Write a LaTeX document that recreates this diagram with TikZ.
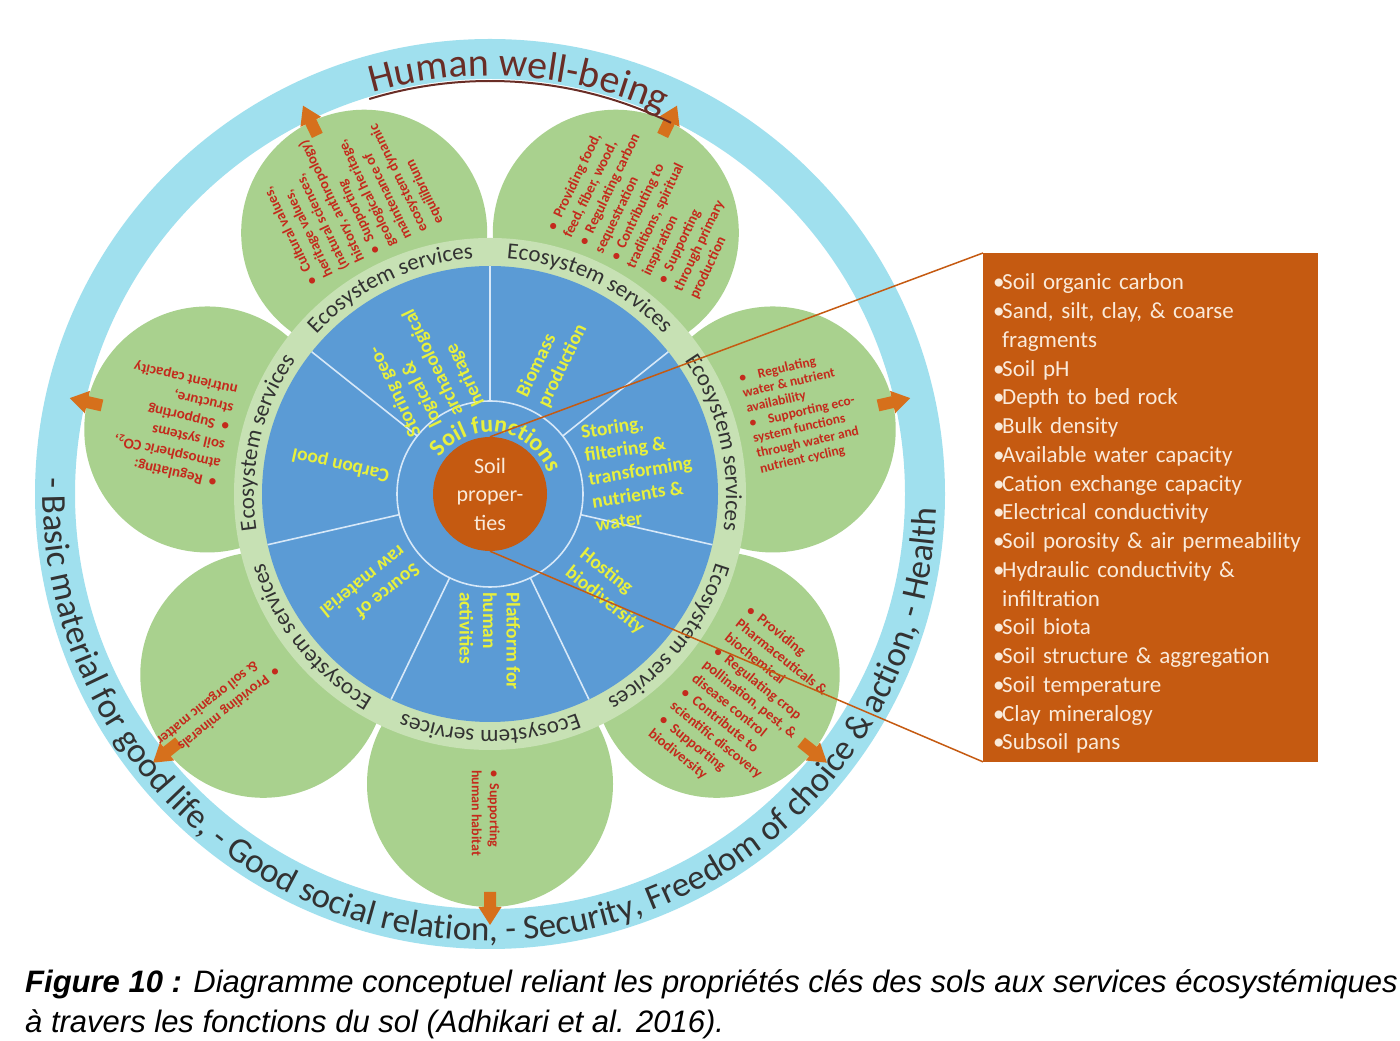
\documentclass[tikz,border=0pt]{standalone}
\usepackage{fontspec}
\setmainfont{Carlito}
\newfontfamily\capfont{Liberation Sans}
\usetikzlibrary{decorations.text,calc}
\definecolor{ringblue}{RGB}{160,224,238}
\definecolor{petalg}{RGB}{169,209,142}
\definecolor{bandg}{RGB}{199,225,180}
\definecolor{discb}{RGB}{91,155,213}
\definecolor{divc}{RGB}{215,232,248}
\definecolor{soilor}{RGB}{197,90,17}
\definecolor{arrowor}{RGB}{214,112,28}
\definecolor{redtxt}{RGB}{196,42,28}
\definecolor{yel}{RGB}{232,240,60}
\definecolor{esgray}{RGB}{50,50,50}
\definecolor{titlec}{RGB}{105,45,38}
\definecolor{cream}{RGB}{250,234,218}
\newcommand\bi[1]{\par\hangindent=9pt\hangafter=1\noindent\makebox[9pt][l]{\textbullet}#1}
\newcommand\pb{\textbullet\ \ }
\begin{document}
\begin{tikzpicture}[x=1pt,y=1pt,
  ptext/.style={text=redtxt, font=\fontsize{14.5}{17.5}\selectfont\bfseries, align=left, inner sep=0pt, anchor=north west},
  psmall/.style={ptext, font=\fontsize{13.5}{15.5}\selectfont\bfseries},
  ftext/.style={text=yel, font=\fontsize{19.5}{23.5}\selectfont\bfseries, align=left, inner sep=0pt},
  divline/.style={draw=divc, line width=1.6},
  soilnode/.style={circle, fill=soilor, minimum size=114, inner sep=0pt, text=cream, align=center, font=\fontsize{22}{28.5}\selectfont},
  propbox/.style={fill=soilor, text=cream, minimum height=504, text width=315, inner xsep=10, inner ysep=8, font=\fontsize{23}{28.75}\selectfont},
  conn/.style={draw=soilor, line width=1.5},
  capnode/.style={anchor=base west, inner sep=0pt, font=\capfont\fontsize{31}{40}\selectfont\itshape}
]
\fill[white] (0,0) rectangle (1400,1041);
\useasboundingbox (0,0) rectangle (1400,1041);
\coordinate (C) at (490,547);
% outer ring
\fill[ringblue, even odd rule] (C) circle[radius=455] (C) circle[radius=415];
% petals
\foreach \a in {115.714,64.286,12.857,-38.571,270,218.571,167.143}{
  \fill[petalg] ($(C)+(\a:290)$) circle[radius=123];
}
% arrows
\foreach \a in {115.714,64.286,12.857,-38.571,270,218.571,167.143}{
  \begin{scope}[shift={(C)}, rotate=\a]
    \fill[arrowor] (398,-6) -- (413,-6) -- (413,-11.5) -- (431,0) -- (413,11.5) -- (413,6) -- (398,6) -- cycle;
  \end{scope}
}
% band and disc
\fill[bandg] (C) circle[radius=256];
\fill[discb] (C) circle[radius=228];
\foreach \k in {0,...,6}{
  \draw[divline] ($(C)+(90+\k*51.4286:93)$) -- ($(C)+(90+\k*51.4286:228)$);
}
\draw[divline] (C) circle[radius=93];
% ecosystem services labels
\foreach \a in {115.714,64.286,12.857,-38.571,270,218.571,167.143}{
  \path[decorate, decoration={text along path, text align=center, text color=esgray,
     text={|\fontsize{23}{23}\selectfont|Ecosystem services}}]
     ($(C)+(\a+45:236)$) arc[start angle=\a+45, end angle=\a-45, radius=236];
}
% soil functions
\path[decorate, decoration={text along path, text align=center, text color=yel,
   text={|\fontsize{24}{24}\selectfont\bfseries|Soil functions}}]
   ($(C)+(175:62)$) arc[start angle=175, end angle=-11, radius=62];
% title
\path[decorate, decoration={text along path, text align=center, text color=titlec,
   text={|\fontsize{40}{40}\selectfont|Human well-being}}]
   ($(C)+(130:418)$) arc[start angle=130, end angle=42, radius=418];
\draw[titlec, line width=2] ($(C)+(107:413)$) arc[start angle=107, end angle=64, radius=413];
% bottom ring text
\path[decorate, decoration={text along path, text align=center, text color=esgray,
   text={|\fontsize{35}{35}\selectfont|- Basic material for good life, - Good social relation, - Security, Freedom of choice {\&} action, - Health}}]
   ($(C)+(172:447)$) arc[start angle=172, end angle=364, radius=447];
% soil functions sectors
\node[ftext, rotate=115.714] (f1) at ($(C)+(118:143)$) {Storing geo-\\logical \&\\archaeological\\heritage};
\node[ftext, rotate=64.286] (f2) at ($(C)+(65:147)$) {Biomass\\production};
\node[ftext, rotate=9] (f3) at ($(C)+(9:152)$) {Storing,\\filtering \&\\transforming\\nutrients \&\\water};
\node[ftext, rotate=-38.571] (f4) at ($(C)+(-38.5:156)$) {Hosting\\biodiversity};
\node[ftext, rotate=-90] (f5) at ($(C)+(270:147)$) {Platform for\\human\\activities};
\node[ftext, rotate=218.571] (f6) at ($(C)+(219:154)$) {Source of\\raw material};
\node[ftext, rotate=167.143] (f7) at ($(C)+(169:152)$) {Carbon pool};
% petal texts
\node[ptext, rotate=115.714] (e1) at (308,754) {\pb Cultural values,\\heritage values,\\(natural sciences,\\history, anthropology)\\\pb Supporting\\geological heritage,\\maintenance of\\ecosystem dynamic\\equilibrium};
\node[ptext, rotate=64.286] (e2) at (546,814) {\pb Providing food,\\feed, fiber, wood,\\\pb Regulating carbon\\sequestration\\\pb Contributing to\\traditions, spiritual\\inspiration\\\pb Supporting\\through primary\\production};
\node[psmall, rotate=12.857] (e3) at (738,668) {\textbullet\ \ \ \ Regulating\\water \& nutrient\\availability\\\textbullet\ \ \ \ Supporting eco-\\system functions\\through water and\\nutrient cycling};
\node[ptext, rotate=-38.571] (e4) at (752,437) {\pb Providing\\Pharmaceuticals \&\\biochemical\\\pb Regulating crop\\pollination, pest, \&\\disease control\\\pb Contribute to\\scientific discovery\\\pb Supporting\\biodiversity};
\node[ptext, rotate=-90, font=\fontsize{14}{18}\selectfont\bfseries] (e5) at (500,271) {\pb Supporting\\human habitat};
\node[ptext, rotate=218.571] (e6) at (282,367) {\pb Providing minerals\\\phantom{\pb}\& soil organic matter};
\node[ptext, rotate=167.143, font=\fontsize{15}{19}\selectfont\bfseries] (e7) at (215,552) {\pb Regulating:\\atmospheric CO\textsubscript{2},\\soil systems\\\pb Supporting\\structure,\\nutrient capacity};
% soil properties
\node[soilnode] (soil) at (C) {Soil\\proper-\\ties};
% box
\node[propbox, anchor=north west] (props) at (983,788) {\raggedright
\bi{Soil organic carbon}
\bi{Sand, silt, clay, \& coarse fragments}
\bi{Soil pH}
\bi{Depth to bed rock}
\bi{Bulk density}
\bi{Available water capacity}
\bi{Cation exchange capacity}
\bi{Electrical conductivity}
\bi{Soil porosity \& air permeability}
\bi{Hydraulic conductivity \& infiltration}
\bi{Soil biota}
\bi{Soil structure \& aggregation}
\bi{Soil temperature}
\bi{Clay mineralogy}
\bi{Subsoil pans}\par};
\draw[conn] (props.north west) -- (soil.north);
\draw[conn] (props.south west) -- (soil.south);
% caption
\node[capnode] (cap1) at (25,48) {\textbf{Figure 10 :} Diagramme conceptuel reliant les propriétés clés des sols aux services écosystémiques};
\node[capnode] (cap2) at (25,8) {à travers les fonctions du sol (Adhikari et al. 2016).};
\end{tikzpicture}
\end{document}
